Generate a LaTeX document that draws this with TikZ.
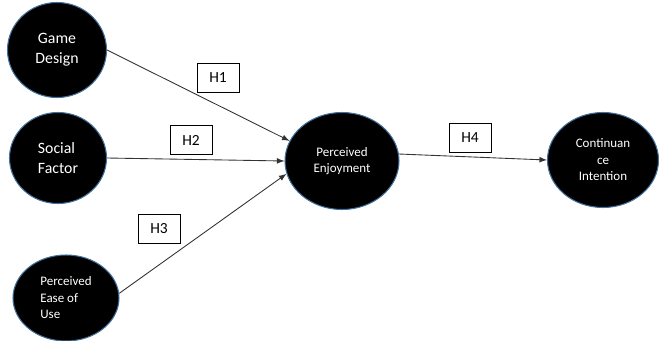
\documentclass[tikz,border=0pt]{standalone}
\usepackage{fontspec}
\setmainfont{Carlito}
\usetikzlibrary{shapes.geometric}
\definecolor{ellblue}{HTML}{41719C}
\begin{document}
\begin{tikzpicture}[
    var/.style={ellipse,draw=ellblue,line width=0.6pt,fill=black,text=white,inner sep=0pt},
    big/.style={font=\fontsize{9}{11.4}\selectfont},
    small/.style={font=\fontsize{7.4}{9.4}\selectfont},
    hyp/.style={draw,line width=0.5pt,minimum width=0.84cm,minimum height=0.58cm,inner sep=0pt,font=\fontsize{8.8}{10}\selectfont},
    link/.style={-latex,draw=black!80,line width=0.5pt}]
        \useasboundingbox(0,0)rectangle(13.18,6.8);
        \node[var,big,align=center,minimum width=1.98cm,minimum height=1.90cm](gd)at(1.14,5.80){Game\\Design};
        \node[var,big,align=left,minimum width=1.94cm,minimum height=1.82cm](sf)at(1.16,3.64){Social\\Factor};
        \node[var,small,align=left,minimum width=2.12cm,minimum height=1.72cm](peu)at(1.32,0.84){Perceived\\Ease of\\Use};
        \node[var,small,align=center,minimum width=2.28cm,minimum height=1.94cm](pe)at(6.84,3.58){Perceived\\Enjoyment};
        \node[var,small,align=center,minimum width=2.22cm,minimum height=1.90cm](ci)at(12.06,3.60){Continuan\\ce\\Intention};
        \node[hyp](h1)at(4.36,5.24){H1};
        \node[hyp](h2)at(3.82,4.00){H2};
        \node[hyp](h3)at(3.18,2.22){H3};
        \node[hyp](h4)at(9.40,4.04){H4};
        \draw[link](gd.east)--(pe.159);
        \draw[link](sf.east)--(pe.west);
        \draw[link](peu.5)--(pe.193);
        \draw[link](pe.7)--(ci.west);
    \end{tikzpicture}
\end{document}
